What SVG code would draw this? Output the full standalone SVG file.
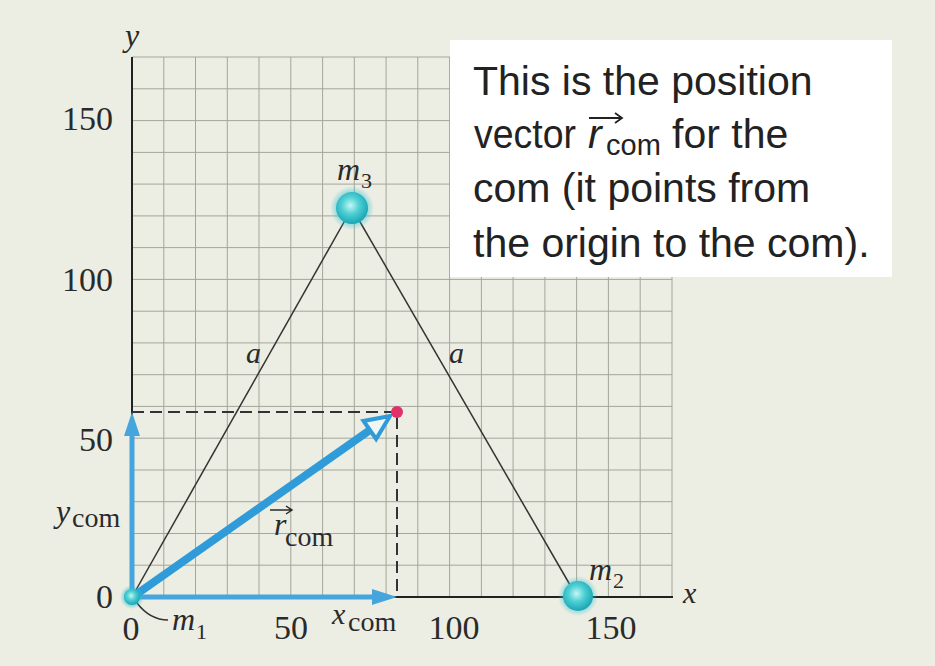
<svg xmlns="http://www.w3.org/2000/svg" width="935" height="666" viewBox="0 0 935 666">
  <defs>
    <style>
      .num { font-family: "Liberation Serif", "Times New Roman", serif; font-size: 34px; fill: #2a2a2a; }
      .it { font-family: "Liberation Serif", "Times New Roman", serif; font-style: italic; fill: #2a2a2a; }
      .sub { font-family: "Liberation Serif", "Times New Roman", serif; fill: #2a2a2a; }
      .grid line { stroke: #a4a59b; stroke-width: 1; }
      .box { font-family: "Liberation Sans", Arial, sans-serif; font-size: 41px; fill: #222; }
      .dash { stroke: #333; stroke-width: 2; stroke-dasharray: 12 6; fill: none; }
      .blue { stroke: #45a5dc; fill: none; }
    </style>
    <radialGradient id="ball" cx="0.45" cy="0.42" r="0.6">
      <stop offset="0" stop-color="#c6f6f4"/>
      <stop offset="0.45" stop-color="#4fd0d4"/>
      <stop offset="1" stop-color="#17a3b3"/>
    </radialGradient>
    <radialGradient id="glow" cx="0.5" cy="0.5" r="0.5">
      <stop offset="0.6" stop-color="#2cc3d0" stop-opacity="0.6"/>
      <stop offset="1" stop-color="#2cc3d0" stop-opacity="0"/>
    </radialGradient>
  </defs>

  <rect x="0" y="0" width="935" height="666" fill="#ecede3"/>

  <g id="grid" class="grid">
    <line x1="163.8" y1="57" x2="163.8" y2="597"/>
    <line x1="195.5" y1="57" x2="195.5" y2="597"/>
    <line x1="227.3" y1="57" x2="227.3" y2="597"/>
    <line x1="259" y1="57" x2="259" y2="597"/>
    <line x1="290.8" y1="57" x2="290.8" y2="597"/>
    <line x1="322.6" y1="57" x2="322.6" y2="597"/>
    <line x1="354.3" y1="57" x2="354.3" y2="597"/>
    <line x1="386.1" y1="57" x2="386.1" y2="597"/>
    <line x1="417.8" y1="57" x2="417.8" y2="597"/>
    <line x1="449.6" y1="57" x2="449.6" y2="597"/>
    <line x1="481.4" y1="57" x2="481.4" y2="597"/>
    <line x1="513.1" y1="57" x2="513.1" y2="597"/>
    <line x1="544.9" y1="57" x2="544.9" y2="597"/>
    <line x1="576.6" y1="57" x2="576.6" y2="597"/>
    <line x1="608.4" y1="57" x2="608.4" y2="597"/>
    <line x1="640.2" y1="57" x2="640.2" y2="597"/>
    <line x1="672" y1="57" x2="672" y2="597"/>
    <line x1="132" y1="565.2" x2="672" y2="565.2"/>
    <line x1="132" y1="533.5" x2="672" y2="533.5"/>
    <line x1="132" y1="501.7" x2="672" y2="501.7"/>
    <line x1="132" y1="470" x2="672" y2="470"/>
    <line x1="132" y1="438.2" x2="672" y2="438.2"/>
    <line x1="132" y1="406.4" x2="672" y2="406.4"/>
    <line x1="132" y1="374.7" x2="672" y2="374.7"/>
    <line x1="132" y1="342.9" x2="672" y2="342.9"/>
    <line x1="132" y1="311.2" x2="672" y2="311.2"/>
    <line x1="132" y1="279.4" x2="672" y2="279.4"/>
    <line x1="132" y1="247.6" x2="672" y2="247.6"/>
    <line x1="132" y1="215.9" x2="672" y2="215.9"/>
    <line x1="132" y1="184.1" x2="672" y2="184.1"/>
    <line x1="132" y1="152.4" x2="672" y2="152.4"/>
    <line x1="132" y1="120.6" x2="672" y2="120.6"/>
    <line x1="132" y1="88.8" x2="672" y2="88.8"/>
    <line x1="132" y1="57" x2="672" y2="57"/>
  </g>

  <g id="axes">
    <line x1="132" y1="57" x2="132" y2="597" stroke="#222" stroke-width="2"/>
    <line x1="132" y1="597" x2="673" y2="597" stroke="#222" stroke-width="2"/>
    <text class="it" x="125" y="46" font-size="32">y</text>
    <text class="it" x="683" y="603" font-size="30">x</text>
    <text class="num" x="113" y="130" text-anchor="end">150</text>
    <text class="num" x="113" y="291" text-anchor="end">100</text>
    <text class="num" x="113" y="451" text-anchor="end">50</text>
    <text class="num" x="113" y="608" text-anchor="end">0</text>
    <text class="num" x="131" y="640" text-anchor="middle">0</text>
    <text class="num" x="291" y="639" text-anchor="middle">50</text>
    <text class="num" x="454" y="639" text-anchor="middle">100</text>
    <text class="num" x="611" y="639" text-anchor="middle">150</text>
  </g>

  <g id="connectors">
    <line x1="132" y1="597" x2="352" y2="208" stroke="#333" stroke-width="1.5"/>
    <line x1="352" y1="208" x2="577" y2="597" stroke="#333" stroke-width="1.5"/>
    <path class="dash" d="M132,412 H397 V597"/>
    <path d="M137,603 Q150,620 168,620" fill="none" stroke="#333" stroke-width="1.5"/>
    <line class="blue" x1="132" y1="597" x2="132" y2="432" stroke-width="5"/>
    <polygon points="132,412 124,436 140,436" fill="#45a5dc"/>
    <line class="blue" x1="132" y1="597" x2="374" y2="597" stroke-width="5"/>
    <polygon points="397,597 372,589 372,605" fill="#45a5dc"/>
    <line x1="134" y1="596" x2="370" y2="430" stroke="#2f9bd8" stroke-width="8"/>
    <polygon points="390,416 376.1,439 363.5,421" fill="#eef6f6" stroke="#2f9bd8" stroke-width="4" stroke-linejoin="miter"/>
  </g>

  <g id="labels">
    <text class="it" x="246" y="363" font-size="30">a</text>
    <text class="it" x="449" y="363" font-size="30">a</text>
    <text class="it" x="56" y="522" font-size="32">y</text>
    <text class="sub" x="72" y="527" font-size="28">com</text>
    <text class="it" x="332" y="624" font-size="30">x</text>
    <text class="sub" x="348" y="631" font-size="28">com</text>
    <text class="it" x="274" y="535" font-size="32">r</text>
    <text class="sub" x="285" y="546" font-size="28">com</text>
    <path d="M270,510 H291 M286,506 L292,510 L286,514" fill="none" stroke="#2a2a2a" stroke-width="1.5"/>
  </g>

  <g id="com">
    <circle cx="397" cy="412" r="6" fill="#e2306a"/>
  </g>

  <g id="m1">
    <circle cx="132" cy="597" r="12" fill="url(#glow)"/>
    <circle cx="132" cy="597" r="8" fill="url(#ball)"/>
    <text class="it" x="172" y="630" font-size="32">m</text>
    <text class="sub" x="196" y="639" font-size="22">1</text>
  </g>

  <g id="m2">
    <circle cx="578" cy="596" r="20" fill="url(#glow)"/>
    <circle cx="578" cy="596" r="15" fill="url(#ball)"/>
    <text class="it" x="589" y="580" font-size="32">m</text>
    <text class="sub" x="613" y="588" font-size="22">2</text>
  </g>

  <g id="m3">
    <circle cx="352" cy="208" r="22" fill="url(#glow)"/>
    <circle cx="352" cy="208" r="16" fill="url(#ball)"/>
    <text class="it" x="337" y="180" font-size="32">m</text>
    <text class="sub" x="361" y="188" font-size="22">3</text>
  </g>

  <g id="callout">
    <rect x="450" y="40" width="442" height="237" fill="#ffffff"/>
    <text class="box" x="473" y="95">This is the position</text>
    <text class="box" x="474" y="148"><tspan textLength="102" lengthAdjust="spacingAndGlyphs">vector</tspan><tspan x="588" font-style="italic">r</tspan><tspan x="606" font-size="29" dy="7">com</tspan><tspan x="672" dy="-7">for the</tspan></text>
    <path d="M589,118 H621 M615,113 L622,118 L615,123" fill="none" stroke="#222" stroke-width="1.8"/>
    <text class="box" x="473" y="202">com (it points from</text>
    <text class="box" x="473" y="257">the origin to the com).</text>
  </g>
</svg>
